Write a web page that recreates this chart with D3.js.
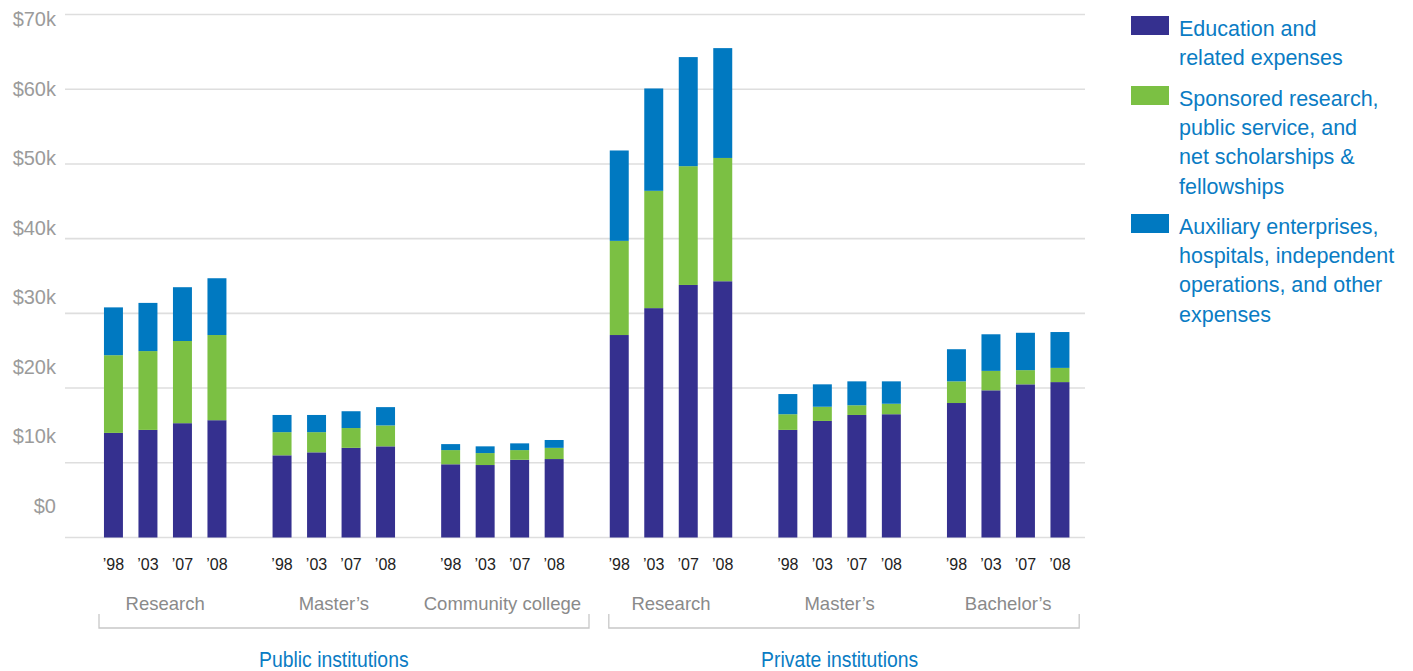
<!DOCTYPE html>
<html>
<head>
<meta charset="utf-8">
<script src="https://cdn.jsdelivr.net/npm/d3@7"></script>
<style>
  html, body { margin: 0; padding: 0; background: #fff; }
  svg { display: block; font-family: "Liberation Sans", Arial, Helvetica, sans-serif; }
</style>
</head>
<body>
<svg id="chart" width="1413" height="671"></svg>
<script>
// Expenses per FTE student, in thousands of dollars
const years = ["\u201998", "\u201903", "\u201907", "\u201908"];
const groupNames = ["Research", "Master\u2019s", "Community college", "Research", "Master\u2019s", "Bachelor\u2019s"];
const sectorNames = ["Public institutions", "Private institutions"];
const groupSector = [0, 0, 0, 1, 1, 1];

// one row per institution group, one value per year
const education = [
  [14.0, 14.4, 15.3, 15.7],
  [11.0, 11.4, 12.0, 12.2],
  [9.8, 9.7, 10.4, 10.5],
  [27.1, 30.7, 33.8, 34.3],
  [14.4, 15.6, 16.4, 16.5],
  [18.0, 19.7, 20.5, 20.8]
];
const sponsored = [
  [10.4, 10.55, 11.0, 11.4],
  [3.1, 2.7, 2.65, 2.8],
  [1.9, 1.6, 1.3, 1.5],
  [12.6, 15.7, 15.9, 16.5],
  [2.1, 1.9, 1.3, 1.4],
  [2.9, 2.6, 1.9, 1.9]
];
const auxiliary = [
  [6.4, 6.45, 7.2, 7.6],
  [2.3, 2.3, 2.25, 2.45],
  [0.8, 0.9, 0.9, 1.05],
  [12.1, 13.7, 14.6, 14.7],
  [2.7, 3.0, 3.2, 3.0],
  [4.3, 4.9, 5.0, 4.8]
];

const yTicks = [0, 10, 20, 30, 40, 50, 60, 70];
const yTickLabels = ["$0", "$10k", "$20k", "$30k", "$40k", "$50k", "$60k", "$70k"];

const seriesKeys = ["education", "sponsored", "auxiliary"];
const seriesColors = ["#35308f", "#7bc043", "#0079c1"];
const legendLines = [
  ["Education and", "related expenses"],
  ["Sponsored research,", "public service, and", "net scholarships &", "fellowships"],
  ["Auxiliary enterprises,", "hospitals, independent", "operations, and other", "expenses"]
];

// flat table for stacking
const rows = [];
groupNames.forEach((g, gi) => {
  years.forEach((yr, yi) => {
    rows.push({
      group: gi, year: yr,
      education: education[gi][yi],
      sponsored: sponsored[gi][yi],
      auxiliary: auxiliary[gi][yi]
    });
  });
});

const svg = d3.select("#chart");

const y = d3.scaleLinear().domain([0, 70]).range([537.5, 14.5]);
// tick captions sit on their own, slightly tighter ladder
const yLabel = d3.scaleLinear().domain([0, 70]).range([506, 19]);

const x0 = d3.scaleBand().domain(d3.range(groupNames.length)).range([96.2, 1077.2]).paddingInner(0.1815).paddingOuter(0);
const x1 = d3.scaleBand().domain(years).range([0, x0.bandwidth()]).paddingInner(0.45).paddingOuter(0.225);

// gridlines
svg.append("g").selectAll("line").data(yTicks).join("line")
  .attr("x1", 65).attr("x2", 1085)
  .attr("y1", d => y(d)).attr("y2", d => y(d))
  .attr("stroke", "#dedede").attr("stroke-width", 1.6);

// y tick captions
svg.append("g").selectAll("text").data(yTicks).join("text")
  .attr("x", 56).attr("y", d => yLabel(d)).attr("dy", "0.35em")
  .attr("text-anchor", "end")
  .attr("font-size", 20).attr("fill", "#9b9b9b")
  .text((d, i) => yTickLabels[i]);

// stacked bars
const stacked = d3.stack().keys(seriesKeys)(rows);
svg.append("g").selectAll("g").data(stacked).join("g")
  .attr("fill", (d, i) => seriesColors[i])
  .selectAll("rect").data(d => d).join("rect")
  .attr("x", d => x0(d.data.group) + x1(d.data.year))
  .attr("width", x1.bandwidth())
  .attr("y", d => y(d[1]))
  .attr("height", d => y(d[0]) - y(d[1]));

// year labels
svg.append("g").selectAll("text").data(rows).join("text")
  .attr("x", d => x0(d.group) + x1(d.year) + x1.bandwidth() / 2)
  .attr("y", 570)
  .attr("text-anchor", "middle")
  .attr("font-size", 16).attr("fill", "#222")
  .text(d => d.year);

// group labels
svg.append("g").selectAll("text").data(groupNames).join("text")
  .attr("x", (d, i) => x0(i) + x0.bandwidth() / 2)
  .attr("y", 610)
  .attr("text-anchor", "middle")
  .attr("font-size", 18.5).attr("fill", "#8a8a8a")
  .text(d => d);

// sector brackets and captions
const sectors = sectorNames.map((name, si) => {
  const idx = groupSector.map((s, i) => s === si ? i : -1).filter(i => i >= 0);
  const first = idx[0], last = idx[idx.length - 1];
  return {
    name,
    barsLeft: x0(first) + x1(years[0]),
    barsRight: x0(last) + x1(years[years.length - 1]) + x1.bandwidth(),
    left: si === 0 ? x0(first) + 2.8 : x0(first) + 6.8,
    right: si === 0 ? x0(last) + x0.bandwidth() + 17.6 : x0(last) + x0.bandwidth() + 2
  };
});

const br = svg.append("g").attr("fill", "none").attr("stroke", "#c8c8c8").attr("stroke-width", 1.3);
sectors.forEach(s => {
  br.append("path").attr("d", `M${s.left},614V628H${s.right}V614`);
});

// sector captions use a condensed face
svg.append("g").selectAll("text").data(sectors).join("text")
  .attr("transform", d => `translate(${(d.barsLeft + d.barsRight) / 2},667) scale(0.88,1)`)
  .attr("text-anchor", "middle")
  .attr("font-size", 22).attr("fill", "#0a7cc4")
  .text(d => d.name);

// legend
const legendTop = [28, 98, 226];
const lineGap = 29.4;
const lg = svg.append("g");
legendLines.forEach((lines, i) => {
  lg.append("rect")
    .attr("x", 1131).attr("y", legendTop[i] - 12)
    .attr("width", 38).attr("height", 19)
    .attr("fill", seriesColors[i]);
  const t = lg.append("text")
    .attr("font-size", 21.5).attr("fill", "#0a7cc4");
  lines.forEach((ln, j) => {
    t.append("tspan")
      .attr("x", 1179).attr("y", legendTop[i] + j * lineGap)
      .attr("dy", "0.35em")
      .text(ln);
  });
});
</script>
</body>
</html>
